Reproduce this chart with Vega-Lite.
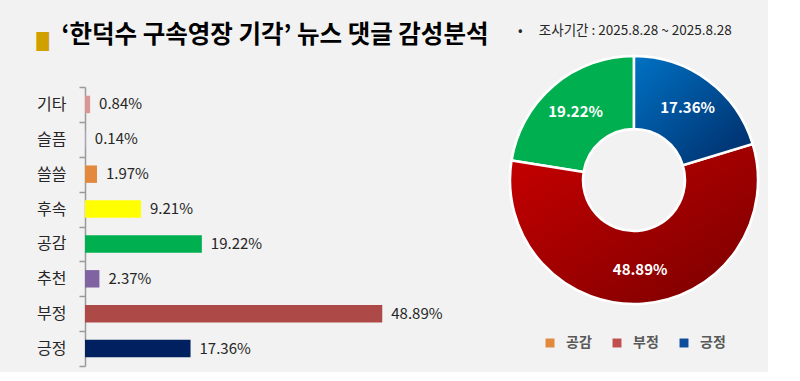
{
  "$schema": "https://vega.github.io/schema/vega-lite/v6.json",
  "background": "#f2f2f2",
  "padding": {"left": 36, "top": 23, "right": 5, "bottom": 5},
  "config": {
    "view": {"stroke": null},
    "font": "Noto Sans CJK KR",
    "legend": {"layout": {"bottom": {"anchor": "middle"}}}
  },
  "resolve": {"scale": {"color": "independent"}, "legend": {"color": "independent"}},
  "title": {"text": "█", "font": "DejaVu Sans", "fontSize": 16, "color": "#cfa000", "anchor": "start", "frame": "bounds", "offset": -27},
  "spacing": 16,
  "hconcat": [
    {
      "width": 304,
      "height": 279,
      "title": {"text": "‘한덕수 구속영장 기각’ 뉴스 댓글 감성분석", "fontSize": 24.5, "fontWeight": "bold", "color": "#000000", "anchor": "start", "frame": "bounds", "dx": 25, "offset": 30.5},
      "data": {"values": [
        {"category": "기타", "value": 0.0084},
        {"category": "슬픔", "value": 0.0014},
        {"category": "쓸쓸", "value": 0.0197},
        {"category": "후속", "value": 0.0921},
        {"category": "공감", "value": 0.1922},
        {"category": "추천", "value": 0.0237},
        {"category": "부정", "value": 0.4889},
        {"category": "긍정", "value": 0.1736}
      ]},
      "encoding": {
        "y": {"field": "category", "type": "nominal", "sort": null,
          "scale": {"paddingInner": 0, "paddingOuter": 0},
          "axis": {"title": null, "tickBand": "extent", "domainColor": "#9a9a9a", "domainWidth": 1.5, "tickColor": "#9a9a9a", "tickWidth": 1.5, "tickSize": 6, "ticks": true, "labelPadding": 13, "labelFontSize": 16, "labelColor": "#262626"}},
        "x": {"field": "value", "type": "quantitative", "scale": {"domain": [0, 0.5]}, "axis": null}
      },
      "layer": [
        {
          "mark": {"type": "bar", "height": {"band": 0.5}},
          "encoding": {
            "color": {"field": "category", "type": "nominal", "legend": null,
              "scale": {"domain": ["기타", "슬픔", "쓸쓸", "후속", "공감", "추천", "부정", "긍정"],
                "range": ["#d99694", "#b3a2c7", "#e2893d", "#ffff00", "#00b050", "#8064a2", "#ad4a48", "#002060"]}}
          }
        },
        {
          "mark": {"type": "text", "align": "left", "dx": 9, "fontSize": 15, "color": "#262626"},
          "encoding": {"text": {"field": "value", "type": "quantitative", "format": ".2%"}}
        }
      ]
    },
    {
      "width": 248,
      "height": 186,
      "title": {"text": "•\u2002\u2002\u2009조사기간 : 2025.8.28 ~ 2025.8.28", "fontSize": 13.5, "fontWeight": "normal", "color": "#262626", "anchor": "start", "frame": "group", "dx": 8, "offset": 14},
      "data": {"values": [
        {"sentiment": "긍정", "value": 0.1736, "ord": 1},
        {"sentiment": "부정", "value": 0.4889, "ord": 2},
        {"sentiment": "공감", "value": 0.1922, "ord": 3}
      ]},
      "transform": [
        {"stack": "value", "groupby": [], "sort": [{"field": "ord", "order": "ascending"}], "as": ["v0", "v1"]}
      ],
      "layer": [
        {
          "mark": {"type": "arc", "outerRadius": 124, "innerRadius": 51, "stroke": "#ffffff", "strokeWidth": 2.5},
          "encoding": {
            "theta": {"field": "v0", "type": "quantitative"},
            "theta2": {"field": "v1"},
            "color": {"field": "sentiment", "type": "nominal",
              "scale": {"domain": ["공감", "부정", "긍정"], "range": ["#e2893d", "#c0504d", "#0f4c9c"]},
              "legend": {"orient": "bottom", "direction": "horizontal", "title": null, "symbolType": "square", "symbolSize": 80, "symbolStrokeWidth": 0, "labelFontSize": 14, "labelFontWeight": "bold", "labelColor": "#595959", "columnPadding": 18, "labelOffset": 9, "offset": 63}
            }
          }
        },
        {
          "transform": [{"filter": "datum.sentiment === '공감'"}],
          "mark": {"type": "arc", "outerRadius": 124, "innerRadius": 51, "stroke": "#ffffff", "strokeWidth": 2.5, "color": "#00b050"},
          "encoding": {
            "theta": {"field": "v0", "type": "quantitative"},
            "theta2": {"field": "v1"}
          }
        },
        {
          "transform": [{"filter": "datum.sentiment === '부정'"}],
          "mark": {"type": "arc", "outerRadius": 124, "innerRadius": 51, "stroke": "#ffffff", "strokeWidth": 2.5,
            "color": {"gradient": "linear", "x1": 0, "y1": 0, "x2": 1, "y2": 1, "stops": [{"offset": 0, "color": "#c80000"}, {"offset": 1, "color": "#780000"}]}},
          "encoding": {
            "theta": {"field": "v0", "type": "quantitative"},
            "theta2": {"field": "v1"}
          }
        },
        {
          "transform": [{"filter": "datum.sentiment === '긍정'"}],
          "mark": {"type": "arc", "outerRadius": 124, "innerRadius": 51, "stroke": "#ffffff", "strokeWidth": 2.5,
            "color": {"gradient": "linear", "x1": 0, "y1": 0, "x2": 1, "y2": 1, "stops": [{"offset": 0, "color": "#0072c4"}, {"offset": 1, "color": "#002a66"}]}},
          "encoding": {
            "theta": {"field": "v0", "type": "quantitative"},
            "theta2": {"field": "v1"}
          }
        },
        {
          "mark": {"type": "text", "radius": 90, "fontSize": 15, "fontWeight": "bold", "color": "#ffffff"},
          "encoding": {
            "theta": {"field": "value", "type": "quantitative", "stack": true},
            "order": {"field": "ord", "type": "quantitative"},
            "text": {"field": "value", "type": "quantitative", "format": ".2%"}
          }
        }
      ]
    }
  ]
}
